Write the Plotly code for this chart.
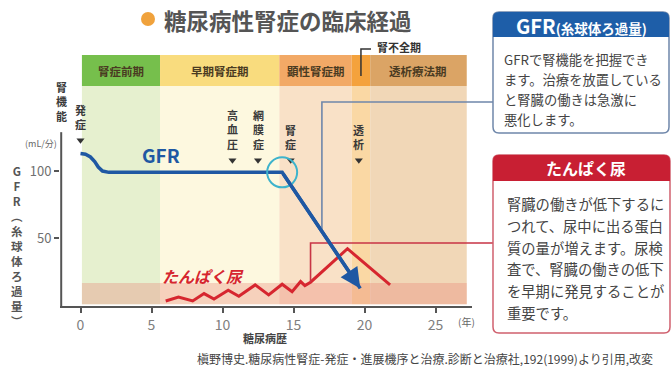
import numpy as np
import plotly.graph_objects as go

# ---------------- data ----------------
stage_names = ["腎症前期", "早期腎症期", "顕性腎症期", "腎不全期", "透析療法期"]
stage_start = [0.1, 5.6, 14.0, 19.1, 20.4]
stage_end = [5.6, 14.0, 19.1, 20.4, 27.2]

gfr_years = [0.0, 0.35, 0.7, 1.0, 1.25, 1.55, 2.0, 14.2, 19.7]
gfr_values = [113, 112.5, 110.5, 107, 103, 100, 99, 99, 12.4]

prot_years = [6.0, 6.9, 7.9, 8.7, 9.4, 10.4, 11.15, 12.3, 13.25, 14.2, 14.9,
              15.5, 15.8, 16.2, 18.8, 21.8]
prot_values = [3, 6, 3, 8.5, 4.5, 11, 6.5, 15, 7.5, 15.5, 10,
               17.5, 14.5, 17, 42, 15]

event_names = ["発症", "高血圧", "網膜症", "腎症", "透析"]
event_years = [0.0, 10.7, 12.5, 14.8, 19.6]

x_ticks = [0, 5, 10, 15, 20, 25]
y_ticks = [50, 100]

gfr_box_title = "GFR"
gfr_box_sub = "(糸球体ろ過量)"
gfr_box_lines = ["GFRで腎機能を把握でき", "ます。治療を放置している",
                 "と腎臓の働きは急激に", "悪化します。"]
prot_box_title = "たんぱく尿"
prot_box_lines = ["腎臓の働きが低下するに", "つれて、尿中に出る蛋白",
                  "質の量が増えます。尿検", "査で、腎臓の働きの低下",
                  "を早期に発見することが", "重要です。"]

# ---------------- styling ----------------
FONT = "Noto Sans CJK JP"
GFR_BLUE = "#1f58a3"
PROT_RED = "#d6262f"
head_colors = ["#76bf4c", "#f9dc7e", "#f2a966", "#f4a23c", "#dba465"]
body_colors = ["#e6f0cf", "#fdf8df", "#f9e1c7", "#fad8a4", "#f1d7b7"]

W, H = 672, 367
L, R, T, B = 60, 200, 55, 61
PW, PH = W - L - R, H - T - B
X_RANGE = [-1.444, 27.57]
Y_RANGE = [-0.75, 186.6]
HEAD_BOTTOM = 163.4
PINK_TOP = 16.4


def px(xpix):
    return (xpix - L) / PW


def py(ypix):
    return (H - B - ypix) / PH


def dx(x):
    return (x - X_RANGE[0]) / (X_RANGE[1] - X_RANGE[0])


def dy(y):
    return (y - Y_RANGE[0]) / (Y_RANGE[1] - Y_RANGE[0])


def rounded_path(x0, y0, x1, y1, r, square_bottom=False):
    def P(a, b):
        return f"{px(a):.5f},{py(b):.5f}"
    s = f"M {P(x0 + r, y0)} L {P(x1 - r, y0)} Q {P(x1, y0)} {P(x1, y0 + r)} "
    if square_bottom:
        s += f"L {P(x1, y1)} L {P(x0, y1)} "
    else:
        s += (f"L {P(x1, y1 - r)} Q {P(x1, y1)} {P(x1 - r, y1)} "
              f"L {P(x0 + r, y1)} Q {P(x0, y1)} {P(x0, y1 - r)} ")
    s += f"L {P(x0, y0 + r)} Q {P(x0, y0)} {P(x0 + r, y0)} Z"
    return s


def note(x, y, text, size, color, xref="paper", yref="paper",
         xanchor="center", yanchor="middle"):
    return dict(x=x, y=y, xref=xref, yref=yref, text=text, showarrow=False,
                xanchor=xanchor, yanchor=yanchor,
                font=dict(size=size, color=color))


def vertical(text):
    return "<br>".join(f"<b>{c}</b>" for c in text)


fig = go.Figure()

# stage bands (header strip + lighter body)
shapes = []
for s0, s1, hc, bc in zip(stage_start, stage_end, head_colors, body_colors):
    shapes.append(dict(type="rect", xref="x", yref="y", x0=s0, x1=s1,
                       y0=HEAD_BOTTOM, y1=Y_RANGE[1], fillcolor=hc,
                       line_width=0, layer="below"))
    shapes.append(dict(type="rect", xref="x", yref="y", x0=s0, x1=s1,
                       y0=0.5, y1=HEAD_BOTTOM, fillcolor=bc,
                       line_width=0, layer="below"))
# proteinuria strip
shapes.append(dict(type="rect", xref="x", yref="y", x0=stage_start[0],
                   x1=stage_end[-1], y0=0.5, y1=PINK_TOP,
                   fillcolor="rgba(232,118,108,0.30)", line_width=0,
                   layer="below"))
# y axis line (short, starts below the stage header)
yline_x = X_RANGE[0] + 1.2 / 14.2
shapes.append(dict(type="line", xref="x", yref="y", x0=yline_x, x1=yline_x,
                   y0=Y_RANGE[0], y1=129, line=dict(color="#555", width=2),
                   layer="above"))

# highlight circle where GFR starts to fall
cx, cy = gfr_years[7], gfr_values[7]
shapes.append(dict(type="circle", xref="x", yref="y",
                   x0=cx - 15 / 14.2, x1=cx + 15 / 14.2,
                   y0=cy - 15 / 1.34, y1=cy + 15 / 1.34,
                   line=dict(color="#3db3cc", width=2), layer="above"))

# connectors from the curves to the call-out boxes
gx = 17.0
gy = float(np.interp(gx, gfr_years, gfr_values))
shapes.append(dict(type="path", xref="paper", yref="paper", layer="above",
                   path=f"M {dx(gx):.5f},{dy(gy):.5f} L {dx(gx):.5f},{py(102):.5f} "
                        f"L {px(493):.5f},{py(102):.5f}",
                   line=dict(color="#6f87aa", width=1.6)))
rx = 16.2
ry = float(np.interp(rx, prot_years, prot_values))
shapes.append(dict(type="path", xref="paper", yref="paper", layer="above",
                   path=f"M {dx(rx):.5f},{dy(ry):.5f} L {dx(rx):.5f},{py(243):.5f} "
                        f"L {px(493):.5f},{py(243):.5f}",
                   line=dict(color="#c83545", width=1.6)))

# bracket for the 腎不全期 label
bx = dx((stage_start[3] + stage_end[3]) / 2)
shapes.append(dict(type="path", xref="paper", yref="paper", layer="above",
                   path=f"M {px(371):.5f},{py(49):.5f} L {bx:.5f},{py(49):.5f} "
                        f"L {bx:.5f},{py(76):.5f}",
                   line=dict(color="#333", width=1.5)))

# title bullet
shapes.append(dict(type="circle", xref="paper", yref="paper",
                   x0=px(141), x1=px(155), y0=py(26), y1=py(12),
                   fillcolor="#f0a23c", line_width=0, layer="above"))

# call-out boxes
shapes.append(dict(type="path", xref="paper", yref="paper", layer="above",
                   path=rounded_path(493, 12, 669, 133, 6),
                   fillcolor="white", line=dict(color="#6f87aa", width=1.5)))
shapes.append(dict(type="path", xref="paper", yref="paper", layer="above",
                   path=rounded_path(493, 12, 669, 37, 6, square_bottom=True),
                   fillcolor="#1e5ea8", line_width=0))
shapes.append(dict(type="path", xref="paper", yref="paper", layer="above",
                   path=rounded_path(493, 155, 670, 333, 6),
                   fillcolor="white", line=dict(color="#d0606e", width=1.5)))
shapes.append(dict(type="path", xref="paper", yref="paper", layer="above",
                   path=rounded_path(493, 155, 670, 181, 6, square_bottom=True),
                   fillcolor="#c81f33", line_width=0))

# ---------------- traces ----------------
fig.add_trace(go.Scatter(x=prot_years, y=prot_values, mode="lines",
                         line=dict(color=PROT_RED, width=3),
                         hoverinfo="skip", showlegend=False))
fig.add_trace(go.Scatter(x=gfr_years, y=gfr_values, mode="lines",
                         line=dict(color=GFR_BLUE, width=3.5),
                         hoverinfo="skip", showlegend=False))

onset_mark_y, event_mark_y = 123, 108
mark_y = [onset_mark_y if yr == 0 else event_mark_y for yr in event_years]
fig.add_trace(go.Scatter(x=event_years, y=mark_y, mode="markers",
                         marker=dict(symbol="triangle-down", size=7, color="#333"),
                         hoverinfo="skip", showlegend=False))

# ---------------- annotations ----------------
ann = []
# arrow head at the end of the GFR decline
ann.append(dict(x=gfr_years[-1], y=gfr_values[-1], ax=gfr_years[-2],
                ay=gfr_values[-2], xref="x", yref="y", axref="x", ayref="y",
                text="", showarrow=True, arrowhead=2, arrowsize=1.15,
                arrowwidth=3.5, arrowcolor=GFR_BLUE, standoff=0))

# stage names in the header strip
for name, s0, s1 in zip(stage_names, stage_start, stage_end):
    if name == "腎不全期":
        continue
    ann.append(note((s0 + s1) / 2, (HEAD_BOTTOM + Y_RANGE[1]) / 2,
                    f"<b>{name}</b>", 11.5, "#4a3b22", xref="x", yref="y"))
ann.append(note(px(375), py(47), "<b>腎不全期</b>", 11, "#333",
                xanchor="left"))

# events (vertical text above the markers)
for name, yr, my in zip(event_names, event_years, mark_y):
    ann.append(note(yr, my + 4.5, vertical(name), 11, "#3a3a3a",
                    xref="x", yref="y", yanchor="bottom"))

# curve labels
ann.append(note(5.7, 112, "<b>GFR</b>", 19, GFR_BLUE, xref="x", yref="y"))
ann.append(note(8.6, 21.6, "<b><i>たんぱく尿</i></b>", 16, PROT_RED,
                xref="x", yref="y"))

# axis texts
ann.append(note(px(61), py(102), vertical("腎機能"), 11, "#3a3a3a"))
ann.append(note(px(41), py(143), "(mL/分)", 9, "#666"))
ann.append(note(px(17), py(161), vertical("GFR︵糸球体ろ過量︶"), 11.5, "#555",
                yanchor="top"))
ann.append(note(px(466), py(321), "(年)", 10, "#666"))
ann.append(note(px(265), py(338), "<b>糖尿病歴</b>", 11, "#444"))

# title
ann.append(note(px(162), py(20), "<b>糖尿病性腎症の臨床経過</b>", 22.5, "#555",
                xanchor="left"))

# source
ann.append(note(px(195), py(358),
                "槇野博史.糖尿病性腎症-発症・進展機序と治療.診断と治療社,192(1999)より引用,改変",
                12, "#444", xanchor="left"))

# call-out box texts
ann.append(note(px(581), py(25),
                f"<b><span style='font-size:20px'>{gfr_box_title}</span>"
                f"<span style='font-size:13.5px'>{gfr_box_sub}</span></b>",
                13.5, "white"))
for i, line in enumerate(gfr_box_lines):
    ann.append(note(px(502), py(60 + i * 19.7), line, 13.3, "#444",
                    xanchor="left"))
ann.append(note(px(586), py(168), f"<b>{prot_box_title}</b>", 16, "white"))
for i, line in enumerate(prot_box_lines):
    ann.append(note(px(505), py(204 + i * 21.6), line, 14.3, "#444",
                    xanchor="left"))

fig.update_layout(
    width=W, height=H,
    margin=dict(l=L, r=R, t=T, b=B),
    paper_bgcolor="white", plot_bgcolor="white",
    font=dict(family=FONT),
    shapes=shapes, annotations=ann, showlegend=False,
    xaxis=dict(range=X_RANGE, tickvals=x_ticks, ticks="outside", ticklen=5,
               tickcolor="#555", tickwidth=1.5, showline=True, linecolor="#555",
               linewidth=1.5, showgrid=False, zeroline=False, fixedrange=True,
               tickfont=dict(size=14, color="#808080", family=FONT)),
    yaxis=dict(range=Y_RANGE, tickvals=y_ticks, ticks="outside", ticklen=5,
               tickcolor="#555", tickwidth=1.5, showline=False, showgrid=False,
               zeroline=False, fixedrange=True,
               tickfont=dict(size=13, color="#707070", family=FONT)),
)

fig.write_html("out.html")
